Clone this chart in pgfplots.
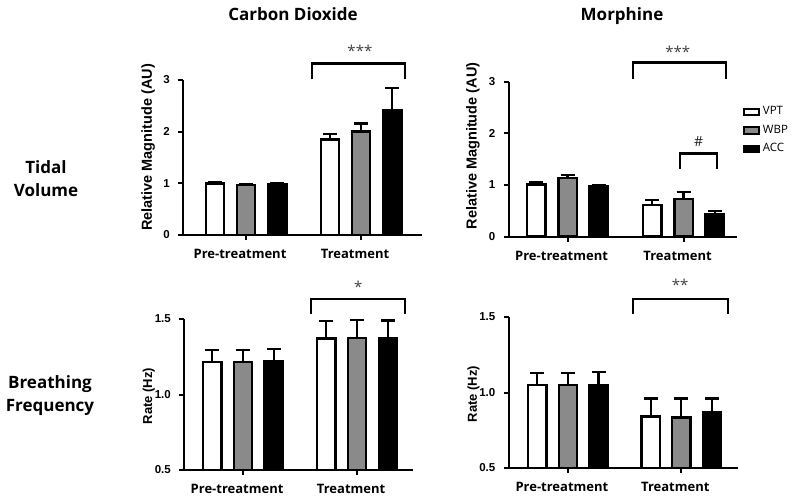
\documentclass[border=0pt]{standalone}
\usepackage{fontspec}
\setmainfont{Liberation Sans}
\newfontfamily\headfont{Open Sans}
\usepackage{pgfplots}
\pgfplotsset{compat=1.18}
\definecolor{barg}{HTML}{8A8A8A}

\pgfplotsset{
  panel/.style={
    scale only axis,
    axis x line*=bottom, axis y line*=left,
    axis line style={line width=2pt},
    major tick length=5pt,
    tick align=outside,
    every tick/.style={line width=2pt, black},
    ybar,
    enlargelimits=false,
    clip=false,
    xtick={0,1},
    xticklabels={Pre-treatment, Treatment},
    xticklabel style={font=\headfont\bfseries\fontsize{13}{15}\selectfont, xshift=-6pt, yshift=-6pt},
    yticklabel style={font=\bfseries\fontsize{11.5}{13}\selectfont, anchor=east, inner sep=0pt, xshift=-8pt},
    /pgf/number format/assume math mode=true,
    ylabel style={inner sep=0pt, anchor=south},
  },
  errs/.style={error bars/.cd, y dir=plus, y explicit, error mark=|,
    error bar style={line width=2.3pt, black},
    error mark options={line width=2.3pt, black, mark size=7pt}},
  lgd/.style={/pgfplots/legend image code/.code={\draw[line width=2pt, ##1] (0pt,-3.2pt) rectangle (15pt,3.2pt);}},
  vpt/.style={fill=white, draw=black, line width=2.5pt, bar width=0.16, bar shift=-0.27, lgd, errs},
  wbp/.style={fill=barg, draw=black, line width=2.5pt, bar width=0.16, bar shift=0, lgd, errs},
  acc/.style={fill=black, draw=black, line width=2.5pt, bar width=0.16, bar shift=0.27, lgd, errs},
}
\tikzset{
  brk/.style={line width=2.3pt, line join=miter},
  star/.style={font=\headfont\fontsize{15}{16}\selectfont, text=black!75},
}

\begin{document}
\begin{tikzpicture}
\useasboundingbox (0pt,0pt) rectangle (800pt,-500pt);

% titles and row labels
\node[font=\headfont\bfseries\fontsize{17}{20}\selectfont, anchor=base] at (293pt,-21pt) {Carbon Dioxide};
\node[font=\headfont\bfseries\fontsize{17}{20}\selectfont, anchor=base] at (622pt,-21pt) {Morphine};
\node[font=\headfont\bfseries\fontsize{17}{20}\selectfont, anchor=base] at (46pt,-173pt) {Tidal};
\node[font=\headfont\bfseries\fontsize{17}{20}\selectfont, anchor=base] at (46pt,-196pt) {Volume};
\node[font=\headfont\bfseries\fontsize{17}{20}\selectfont, anchor=base] at (50pt,-388pt) {Breathing};
\node[font=\headfont\bfseries\fontsize{17}{20}\selectfont, anchor=base] at (50pt,-411pt) {Frequency};

% Tidal volume, carbon dioxide
\begin{axis}[panel, at={(183pt,-235pt)}, anchor=south west, width=239pt, height=155pt,
  xmin=-0.548, xmax=1.53, ymin=0, ymax=3, ytick={0,1,2,3},
  ylabel={Relative Magnitude (AU)},
  ylabel style={at={(axis description cs:-0.117,0.565)}, font=\bfseries\fontsize{14.5}{16}\selectfont}]
\addplot[vpt] coordinates {(0,1.00) +- (0,0.015) (1,1.85) +- (0,0.10)};
\addplot[wbp] coordinates {(0,0.97) +- (0,0.02) (1,2.00) +- (0,0.16)};
\addplot[acc] coordinates {(0,0.98) +- (0,0.03) (1,2.41) +- (0,0.43)};
\draw[brk] (axis cs:0.574,3.01) -- (axis cs:0.574,3.32) -- (axis cs:1.383,3.32) -- (axis cs:1.383,3.01);
\node[star] at (axis cs:0.99,3.56) {***};
\end{axis}

% Tidal volume, morphine
\begin{axis}[panel, at={(508.5pt,-236.7pt)}, anchor=south west, width=228.5pt, height=155pt,
  xmin=-0.509, xmax=1.46, ymin=0, ymax=3, ytick={0,1,2,3},
  ylabel={Relative Magnitude (AU)},
  ylabel style={at={(axis description cs:-0.125,0.585)}, font=\bfseries\fontsize{14.5}{16}\selectfont},
  legend style={at={(rel axis cs:1.014,0.858)}, anchor=north west, draw=none, fill=none,
    font=\headfont\fontsize{11.5}{13}\selectfont, row sep=7pt,
    nodes={inner xsep=2.5pt, inner ysep=0.8pt, text height=8pt, text depth=2pt}},
  legend cell align=left]
\addplot[vpt] coordinates {(0,1.01) +- (0,0.05) (1,0.61) +- (0,0.10)};
\addlegendentry{VPT}
\addplot[wbp] coordinates {(0,1.14) +- (0,0.06) (1,0.73) +- (0,0.13)};
\addlegendentry{WBP}
\addplot[acc] coordinates {(0,0.97) +- (0,0.03) (1,0.43) +- (0,0.07)};
\addlegendentry{ACC}
\draw[brk] (axis cs:0.565,3.05) -- (axis cs:0.565,3.37) -- (axis cs:1.366,3.37) -- (axis cs:1.366,3.05);
\node[star] at (axis cs:0.95,3.58) {***};
\draw[brk] (axis cs:0.97,1.32) -- (axis cs:0.97,1.61) -- (axis cs:1.29,1.61) -- (axis cs:1.29,1.32);
\node[star, text=black!85, font=\headfont\fontsize{14}{16}\selectfont] at (axis cs:1.13,1.84) {\#};
\end{axis}

% Breathing frequency, carbon dioxide
\begin{axis}[panel, at={(184pt,-470pt)}, anchor=south west, width=229pt, height=151pt,
  xmin=-0.518, xmax=1.49, ymin=0.5, ymax=1.5, ytick={0.5,1.0,1.5},
  yticklabel style={/pgf/number format/.cd, fixed, fixed zerofill, precision=1},
  ylabel={Rate (Hz)},
  ylabel style={at={(axis description cs:-0.127,0.49)}, font=\bfseries\fontsize{13}{15}\selectfont}]
\addplot[vpt] coordinates {(0,1.215) +- (0,0.081) (1,1.370) +- (0,0.117)};
\addplot[wbp] coordinates {(0,1.215) +- (0,0.081) (1,1.374) +- (0,0.119)};
\addplot[acc] coordinates {(0,1.221) +- (0,0.079) (1,1.374) +- (0,0.116)};
\draw[brk] (axis cs:0.596,1.535) -- (axis cs:0.596,1.633) -- (axis cs:1.42,1.633) -- (axis cs:1.42,1.535);
\node[star] at (axis cs:1.01,1.71) {*};
\end{axis}

% Breathing frequency, morphine
\begin{axis}[panel, at={(508.5pt,-468pt)}, anchor=south west, width=229.5pt, height=151pt,
  xmin=-0.524, xmax=1.50, ymin=0.5, ymax=1.5, ytick={0.5,1.0,1.5},
  yticklabel style={/pgf/number format/.cd, fixed, fixed zerofill, precision=1},
  ylabel={Rate (Hz)},
  ylabel style={at={(axis description cs:-0.125,0.49)}, font=\bfseries\fontsize{13}{15}\selectfont}]
\addplot[vpt] coordinates {(0,1.050) +- (0,0.080) (1,0.842) +- (0,0.119)};
\addplot[wbp] coordinates {(0,1.050) +- (0,0.080) (1,0.836) +- (0,0.125)};
\addplot[acc] coordinates {(0,1.050) +- (0,0.088) (1,0.871) +- (0,0.090)};
\draw[brk] (axis cs:0.573,1.52) -- (axis cs:0.573,1.62) -- (axis cs:1.41,1.62) -- (axis cs:1.41,1.52);
\node[star] at (axis cs:0.99,1.71) {**};
\end{axis}
\end{tikzpicture}
\end{document}
